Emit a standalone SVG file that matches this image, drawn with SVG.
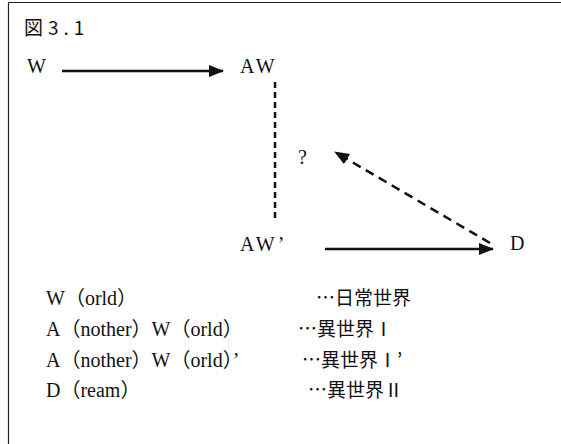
<svg xmlns="http://www.w3.org/2000/svg" width="561" height="444" viewBox="0 0 561 444">
<style>
.t{font-family:"Liberation Serif","Noto Sans CJK JP",serif;font-size:20px;fill:#111}
.j{font-family:"Noto Sans CJK JP",sans-serif;font-size:19px;fill:#111}
.solid{stroke:#111;stroke-width:2.5;fill:none}
.dashv{stroke:#111;stroke-width:2.5;fill:none;stroke-dasharray:6,4}
.dashd{stroke:#111;stroke-width:2.5;fill:none;stroke-dasharray:9,6}
</style>
<defs>
<marker id="ah" viewBox="0 0 15 12" refX="14" refY="6" markerWidth="15" markerHeight="12" markerUnits="userSpaceOnUse" orient="auto">
<path d="M0,0 L15,6 L0,12 z" fill="#111"/>
</marker>
</defs>
<rect width="561" height="444" fill="#fff"/>
<g id="frame" stroke="#222" stroke-width="1.2" fill="none">
<line x1="8.5" y1="2.5" x2="561" y2="2.5"/>
<line x1="8.5" y1="2.5" x2="8.5" y2="444"/>
</g>
<g id="title"><text class="j" x="24" y="35" font-size="20" letter-spacing="5">図3.1</text></g>
<g id="connectors">
<line class="solid" x1="62" y1="71" x2="223" y2="71" marker-end="url(#ah)"/>
<line class="dashv" x1="275" y1="82" x2="275" y2="222"/>
<line class="dashd" x1="490" y1="243" x2="335" y2="152" marker-end="url(#ah)"/>
<line class="solid" x1="325" y1="249" x2="493" y2="249" marker-end="url(#ah)"/>
</g>
<g id="node-W"><text class="t" x="27" y="73">W</text></g>
<g id="node-AW"><text class="t" x="240" y="73" letter-spacing="3">AW</text></g>
<g id="node-q"><text class="t" x="298" y="164" font-size="16">?</text></g>
<g id="node-AW2"><text class="t" x="240" y="251" letter-spacing="3">AW’</text></g>
<g id="node-D"><text class="t" x="510" y="250">D</text></g>
<g id="legend">
<text class="t" x="46" y="305">W（orld）</text>
<text class="t" x="46" y="336">A（nother）W（orld）</text>
<text class="t" x="46" y="367">A（nother）W（orld）’</text>
<text class="t" x="46" y="397">D（ream）</text>
<text class="j" x="316" y="305">…日常世界</text>
<text class="j" x="298" y="336">…異世界Ⅰ</text>
<text class="j" x="302" y="367">…異世界Ⅰ’</text>
<text class="j" x="308" y="397">…異世界Ⅱ</text>
</g>
</svg>
